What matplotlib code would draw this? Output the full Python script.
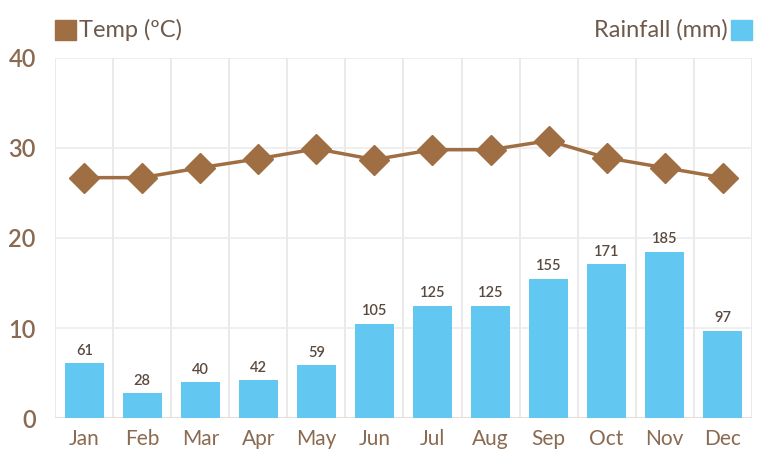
import matplotlib.pyplot as plt
from matplotlib.patches import Rectangle

months = ["Jan", "Feb", "Mar", "Apr", "May", "Jun", "Jul", "Aug", "Sep", "Oct", "Nov", "Dec"]
rainfall = [61, 28, 40, 42, 59, 105, 125, 125, 155, 171, 185, 97]
temp = [26.7, 26.7, 27.8, 28.8, 29.9, 28.7, 29.8, 29.8, 30.8, 28.9, 27.8, 26.7]
yticks = [0, 10, 20, 30, 40]

BLUE = "#62c8f2"
BROWN = "#a06e43"
TICK = "#8a6a50"
LABEL = "#5a4a3e"

plt.rcParams["font.family"] = ["Lato", "DejaVu Sans"]

fig = plt.figure(figsize=(7.57, 4.59), dpi=100)
ax = fig.add_axes([0.073, 0.089, 0.92, 0.785])

x = list(range(len(months)))
ax.bar(x, [r / 10 for r in rainfall], width=0.68, color=BLUE, zorder=2)
for xi, r in zip(x, rainfall):
    ax.text(xi, r / 10 + 0.6, str(r), ha="center", va="bottom",
            fontsize=10.5, color=LABEL, fontweight="semibold", zorder=3)

ax.plot(x, temp, color=BROWN, lw=2.5, marker="D", markersize=15,
        markeredgecolor=BROWN, zorder=4)

ax.set_xlim(-0.5, 11.5)
ax.set_ylim(0, 40)
ax.set_yticks(yticks)
ax.set_xticks(x)
ax.set_xticklabels(months)
for xb in [i + 0.5 for i in range(-1, 12)]:
    ax.axvline(xb, color="#e6e6e6", lw=1.2, zorder=0)
for yv in yticks[1:]:
    ax.axhline(yv, color="#ececec", lw=1.2, zorder=0)
ax.tick_params(length=0, labelsize=15, colors=TICK, pad=8)
ax.tick_params(axis="y", pad=14, labelsize=17)
for lbl in ax.get_yticklabels():
    lbl.set_fontweight("semibold")
for s in ax.spines.values():
    s.set_visible(False)
ax.axhline(0, color="#e8e0d8", lw=1.5, zorder=1)

# legend items above the axes
fig.patches.append(Rectangle((0.073, 0.912), 0.027, 0.045, transform=fig.transFigure,
                             color=BROWN, figure=fig))
fig.text(0.104, 0.935, "Temp (ºC)", fontsize=17, color="#6e5a4c", va="center", ha="left")
fig.patches.append(Rectangle((0.966, 0.912), 0.027, 0.045, transform=fig.transFigure,
                             color=BLUE, figure=fig))
fig.text(0.962, 0.935, "Rainfall (mm)", fontsize=17, color="#6e5a4c", va="center", ha="right")

fig.savefig("out.png", dpi=100)
